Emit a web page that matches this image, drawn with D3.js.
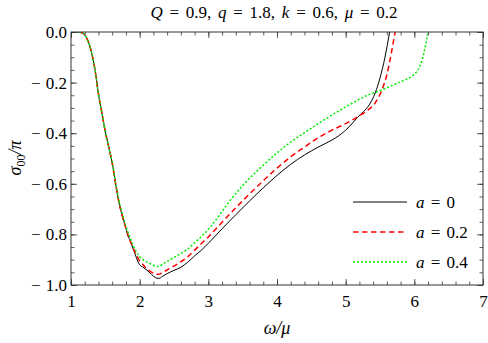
<!DOCTYPE html>
<html>
<head>
<meta charset="utf-8">
<script src="https://cdn.jsdelivr.net/npm/d3@7"></script>
<style>
  body { margin: 0; background: #fff; }
  svg { display: block; font-family: "Liberation Serif", "Times New Roman", serif; }
</style>
</head>
<body>
<svg id="chart" width="488" height="343"></svg>
<script>
// values
var omegaA0 = [1, 1.1, 1.15, 1.2, 1.25, 1.3, 1.35, 1.4, 1.45, 1.5, 1.55, 1.6, 1.65, 1.7, 1.75, 1.8, 1.835, 1.86, 1.885, 1.93, 1.97, 2.0, 2.05, 2.1, 2.15, 2.2, 2.25, 2.28, 2.33, 2.4, 2.5, 2.6, 2.7, 2.8, 2.9, 3.0, 3.2, 3.4, 3.6, 3.8, 4.0, 4.2, 4.4, 4.6, 4.8, 4.9, 5.0, 5.1, 5.18, 5.26, 5.35, 5.43, 5.5, 5.57, 5.64];
var sigmaA0 = [0, 0, -0.002, -0.012, -0.037, -0.082, -0.15, -0.245, -0.32, -0.395, -0.455, -0.518, -0.6, -0.676, -0.73, -0.776, -0.81, -0.822, -0.842, -0.875, -0.905, -0.92, -0.93, -0.94, -0.952, -0.965, -0.973, -0.974, -0.966, -0.955, -0.942, -0.93, -0.91, -0.885, -0.862, -0.835, -0.778, -0.722, -0.668, -0.616, -0.567, -0.523, -0.486, -0.455, -0.427, -0.41, -0.388, -0.36, -0.335, -0.315, -0.285, -0.241, -0.182, -0.103, 0];

var omegaA02 = [1, 1.1, 1.15, 1.2, 1.25, 1.3, 1.35, 1.4, 1.45, 1.5, 1.55, 1.6, 1.65, 1.7, 1.75, 1.8, 1.85, 1.9, 1.95, 2.0, 2.05, 2.1, 2.15, 2.2, 2.27, 2.35, 2.44, 2.56, 2.68, 2.8, 2.9, 3.0, 3.2, 3.4, 3.6, 3.8, 4.0, 4.2, 4.4, 4.6, 4.8, 5.0, 5.1, 5.2, 5.3, 5.43, 5.52, 5.6, 5.67, 5.72];
var sigmaA02 = [0, 0, -0.002, -0.012, -0.037, -0.082, -0.15, -0.245, -0.32, -0.395, -0.455, -0.518, -0.6, -0.676, -0.73, -0.776, -0.818, -0.85, -0.88, -0.905, -0.92, -0.935, -0.945, -0.953, -0.958, -0.948, -0.934, -0.915, -0.893, -0.862, -0.836, -0.81, -0.752, -0.695, -0.64, -0.588, -0.538, -0.493, -0.455, -0.418, -0.388, -0.362, -0.347, -0.331, -0.313, -0.28, -0.234, -0.169, -0.076, 0];

var omegaA04 = [1, 1.1, 1.15, 1.2, 1.25, 1.3, 1.35, 1.4, 1.45, 1.5, 1.55, 1.6, 1.65, 1.7, 1.75, 1.8, 1.85, 1.9, 1.95, 2.0, 2.08, 2.15, 2.27, 2.35, 2.44, 2.56, 2.68, 2.8, 2.9, 3.0, 3.15, 3.3, 3.5, 3.75, 4.0, 4.2, 4.4, 4.63, 4.82, 5.11, 5.3, 5.5, 5.79, 5.9, 5.98, 6.04, 6.08, 6.11, 6.155, 6.2];
var sigmaA04 = [0, 0, -0.002, -0.012, -0.037, -0.082, -0.15, -0.245, -0.32, -0.395, -0.455, -0.515, -0.595, -0.668, -0.72, -0.768, -0.805, -0.84, -0.868, -0.888, -0.905, -0.915, -0.927, -0.915, -0.9, -0.882, -0.862, -0.833, -0.808, -0.78, -0.728, -0.672, -0.607, -0.539, -0.478, -0.435, -0.398, -0.357, -0.325, -0.279, -0.252, -0.232, -0.198, -0.185, -0.172, -0.155, -0.135, -0.113, -0.063, 0];

var xMajorTicks = [1, 2, 3, 4, 5, 6, 7];
var yMajorTicks = [0, -0.2, -0.4, -0.6, -0.8, -1.0];
var legendLabels = ["0", "0.2", "0.4"];

var series = [
  {omega: omegaA0, sigma: sigmaA0, color: "#000000", dash: null, width: 1},
  {omega: omegaA02, sigma: sigmaA02, color: "#ff0000", dash: "5.5,3.5", width: 1.5},
  {omega: omegaA04, sigma: sigmaA04, color: "#00ee00", dash: "2,2", width: 1.5}
];

var svg = d3.select("#chart");
var pLeft = 71, pRight = 483, pTop = 32, pBottom = 285;

var x = d3.scaleLinear().domain([1, 7]).range([pLeft, pRight]);
var y = d3.scaleLinear().domain([-1, 0]).range([pBottom, pTop]);

var xMinor = d3.range(1, 7.001, 0.2).map(function (d) { return +d.toFixed(1); });
var yMinor = d3.range(-1, 0.001, 0.05).map(function (d) { return +d.toFixed(2); });

function fmtY(d) {
  if (d === 0) return "0.0";
  return "\u2212 " + Math.abs(d).toFixed(1);
}

var frameColor = "#333";
var serif = "'Liberation Serif', 'Times New Roman', serif";

// clip for curves
svg.append("clipPath").attr("id", "plotclip")
  .append("rect").attr("x", pLeft).attr("y", pTop).attr("width", pRight - pLeft).attr("height", pBottom - pTop);

// curves
var line = d3.line()
  .x(function (d) { return x(d[0]); })
  .y(function (d) { return y(d[1]); })
  .curve(d3.curveMonotoneX);

series.forEach(function (s) {
  var pts = s.omega.map(function (o, i) { return [o, s.sigma[i]]; });
  svg.append("path")
    .attr("clip-path", "url(#plotclip)")
    .attr("d", line(pts))
    .attr("fill", "none")
    .attr("stroke", s.color)
    .attr("stroke-width", s.width)
    .attr("stroke-dasharray", s.dash);
});

// axes, ticks pointing inward
function styleAxis(g) {
  g.select(".domain").remove();
  g.selectAll(".tick line").attr("stroke", frameColor).attr("stroke-width", 0.8);
  g.selectAll("text").attr("fill", "#000")
    .style("font-size", "17px").style("font-family", serif).style("word-spacing", "1px");
}

svg.append("g").attr("transform", "translate(0," + pBottom + ")")
  .call(d3.axisBottom(x).tickValues(xMinor).tickSize(-3.5).tickFormat(""))
  .call(styleAxis);
svg.append("g").attr("transform", "translate(0," + pBottom + ")")
  .call(d3.axisBottom(x).tickValues(xMajorTicks).tickSize(-6).tickPadding(10).tickFormat(d3.format("d")))
  .call(styleAxis);
svg.append("g").attr("transform", "translate(0," + pTop + ")")
  .call(d3.axisTop(x).tickValues(xMinor).tickSize(-3.5).tickFormat(""))
  .call(styleAxis);
svg.append("g").attr("transform", "translate(0," + pTop + ")")
  .call(d3.axisTop(x).tickValues(xMajorTicks).tickSize(-6).tickFormat(""))
  .call(styleAxis);

svg.append("g").attr("transform", "translate(" + pLeft + ",0)")
  .call(d3.axisLeft(y).tickValues(yMinor).tickSize(-3.5).tickFormat(""))
  .call(styleAxis);
svg.append("g").attr("transform", "translate(" + pLeft + ",0)")
  .call(d3.axisLeft(y).tickValues(yMajorTicks).tickSize(-6).tickPadding(4).tickFormat(fmtY))
  .call(styleAxis);
svg.append("g").attr("transform", "translate(" + pRight + ",0)")
  .call(d3.axisRight(y).tickValues(yMinor).tickSize(-3.5).tickFormat(""))
  .call(styleAxis);
svg.append("g").attr("transform", "translate(" + pRight + ",0)")
  .call(d3.axisRight(y).tickValues(yMajorTicks).tickSize(-6).tickFormat(""))
  .call(styleAxis);

// frame
svg.append("rect")
  .attr("x", pLeft).attr("y", pTop)
  .attr("width", pRight - pLeft).attr("height", pBottom - pTop)
  .attr("fill", "none").attr("stroke", frameColor).attr("stroke-width", 1);

// title
var title = svg.append("text")
  .attr("x", 274).attr("y", 18)
  .attr("text-anchor", "middle")
  .style("font-size", "17px")
  .style("font-family", serif)
  .style("word-spacing", "2.5px");
var titleParts = [["Q", true], [" = 0.9, ", false], ["q", true], [" = 1.8, ", false],
                  ["k", true], [" = 0.6, ", false], ["\u03bc", true], [" = 0.2", false]];
titleParts.forEach(function (p) {
  title.append("tspan").text(p[0]).style("font-style", p[1] ? "italic" : "normal");
});

// x label
svg.append("text")
  .attr("x", 277).attr("y", 334)
  .attr("text-anchor", "middle")
  .style("font-size", "18px")
  .style("font-family", serif)
  .style("font-style", "italic")
  .text("\u03c9/\u03bc");

// y label
var yl = svg.append("text")
  .attr("transform", "translate(21,158) rotate(-90)")
  .attr("text-anchor", "middle")
  .style("font-family", serif)
  .style("font-size", "18px");
yl.append("tspan").style("font-style", "italic").text("\u03c3");
yl.append("tspan").attr("dy", 4).style("font-size", "12px").text("00");
yl.append("tspan").attr("dy", -4).style("font-style", "italic").text("/\u03c0");

// legend
var legend = svg.append("g");
series.forEach(function (s, i) {
  var ly = 202 + i * 30;
  legend.append("line")
    .attr("x1", 353).attr("x2", 407).attr("y1", ly).attr("y2", ly)
    .attr("stroke", s.color).attr("stroke-width", s.width)
    .attr("stroke-dasharray", s.dash);
  var t = legend.append("text")
    .attr("x", 416).attr("y", ly + 6)
    .style("font-family", serif)
    .style("font-size", "17px")
    .style("word-spacing", "2px");
  t.append("tspan").style("font-style", "italic").text("a");
  t.append("tspan").text(" = " + legendLabels[i]);
});
</script>
</body>
</html>
